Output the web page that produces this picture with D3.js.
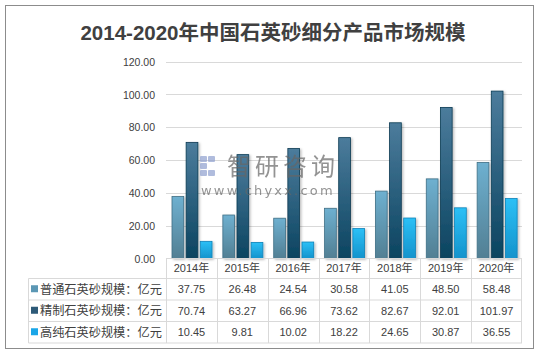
<!DOCTYPE html>
<html><head><meta charset="utf-8">
<script src="https://cdn.jsdelivr.net/npm/d3@7"></script>
<style>
html,body{margin:0;padding:0;background:#fff;}
svg{display:block;}
</style></head>
<body>
<svg id="c" width="540" height="353"></svg>
<script>
const title = "2014-2020年中国石英砂细分产品市场规模";
const categories = ["2014年","2015年","2016年","2017年","2018年","2019年","2020年"];
const seriesNames = ["普通石英砂规模：亿元","精制石英砂规模：亿元","高纯石英砂规模：亿元"];
const putong = [37.75,26.48,24.54,30.58,41.05,48.50,58.48];
const jingzhi = [70.74,63.27,66.96,73.62,82.67,92.01,101.97];
const gaochun = [10.45,9.81,10.02,18.22,24.65,30.87,36.55];
const yTicks = [0,20,40,60,80,100,120];
const seriesValues = [putong, jingzhi, gaochun];

const svg = d3.select("#c");
const latin = "'Liberation Sans','Noto Sans CJK SC',sans-serif";
const cjk = "'Noto Sans CJK SC','Liberation Sans',sans-serif";
const txt = "#404040";

// defs: gradients
const defs = svg.append("defs");
const grads = [
  ["g0", "#6eb0d0", "#527f93", "#3f6f86"],
  ["g1", "#4c7c9c", "#0b4460", "#0a3a52"],
  ["g2", "#2cc0f6", "#1493cc", "#0f82b8"]
];
grads.forEach(([id, top, bot]) => {
  const g = defs.append("linearGradient").attr("id", id).attr("x1",0).attr("y1",0).attr("x2",0).attr("y2",1);
  g.append("stop").attr("offset","0%").attr("stop-color", top);
  g.append("stop").attr("offset","100%").attr("stop-color", bot);
});
const f = defs.append("filter").attr("id","sh").attr("x","-30%").attr("y","-10%").attr("width","170%").attr("height","130%");
f.append("feDropShadow").attr("dx",1.5).attr("dy",1).attr("stdDeviation",1).attr("flood-color","#000").attr("flood-opacity",0.25);

const legendColors = ["#5b97b4", "#2d5a78", "#1aa6e8"];

// outer border
svg.append("rect").attr("x",5.5).attr("y",5.5).attr("width",528).attr("height",343)
  .attr("fill","#fff").attr("stroke","#8c8c8c").attr("stroke-width",1);

// title
svg.append("text").attr("x",273).attr("y",40).attr("text-anchor","middle")
  .attr("font-family", latin).attr("font-weight","bold").attr("font-size",20.5)
  .attr("fill","#404040").text(title);

// scales
const x0 = d3.scaleBand().domain(categories).range([166, 522]).padding(0);
const x1 = d3.scaleBand().domain([0,1,2]).range([6, 46]).paddingInner(0.17).paddingOuter(0);
const y = d3.scaleLinear().domain([0,120]).range([258.5, 61.5]);

// gridlines
svg.append("g").selectAll("line").data(yTicks.filter(d=>d>0)).join("line")
  .attr("x1",166).attr("x2",522)
  .attr("y1",d=>Math.round(y(d))+0.5).attr("y2",d=>Math.round(y(d))+0.5)
  .attr("stroke","#d9d9d9").attr("stroke-width",1);

// y axis labels
const yAxis = d3.axisLeft(y).tickValues(yTicks).tickFormat(d3.format(".2f")).tickSize(0).tickPadding(0);
const ya = svg.append("g").attr("transform","translate(155,0)").call(yAxis);
ya.select(".domain").remove();
ya.selectAll("text").attr("font-family",latin).attr("font-size",10.5).attr("fill",txt).attr("dy","0.35em");

// bars
const groups = svg.append("g").selectAll("g").data(categories).join("g")
  .attr("transform", d => `translate(${x0(d)},0)`);
groups.selectAll("rect").data((d,i)=>seriesValues.map((s,k)=>({k, v:s[i]}))).join("rect")
  .attr("x", d=>x1(d.k)).attr("width", x1.bandwidth())
  .attr("y", d=>y(d.v)).attr("height", d=>y(0)-y(d.v))
  .attr("fill", d=>`url(#g${d.k})`)
  .attr("stroke", d=>grads[d.k][3]).attr("stroke-width",0.8)
  .attr("filter","url(#sh)");

// watermark (on top of bars, semi-transparent)
const wm = svg.append("g").attr("opacity",0.7);
const lg = wm.append("g").attr("fill","#8fa0cf");
[[200,156,7,6],[208,156,7,6],[200,163,7,6],[208,163,7,6],[200,170,7,6],[208,170,7,6]].forEach((r,i)=>{
  if(i!==3) lg.append("rect").attr("x",r[0]).attr("y",r[1]).attr("width",r[2]).attr("height",r[3]).attr("rx",1);
});
wm.append("text").attr("x",227).attr("y",175).attr("font-family",cjk).attr("font-size",24)
  .attr("fill","#666").attr("letter-spacing",4).text("智研咨询");
wm.append("text").attr("x",201).attr("y",195).attr("font-family","'DejaVu Sans',sans-serif").attr("font-size",13)
  .attr("fill","#666").attr("letter-spacing",2.2).text("www.chyxx.com");

// table
const tb = svg.append("g");
const rowY = [258.5, 278.5, 300, 321.5, 343];
const gridC = "#d9d9d9";
tb.append("line").attr("x1",166).attr("x2",522).attr("y1",rowY[0]).attr("y2",rowY[0]).attr("stroke",gridC);
for (let r=1;r<rowY.length;r++){
  tb.append("line").attr("x1",28.5).attr("x2",522).attr("y1",rowY[r]).attr("y2",rowY[r]).attr("stroke",gridC);
}
tb.append("line").attr("x1",28.5).attr("x2",28.5).attr("y1",rowY[1]).attr("y2",rowY[4]).attr("stroke",gridC);
categories.forEach(c=>{
  const xx = Math.round(x0(c))+0.5;
  tb.append("line").attr("x1",xx).attr("x2",xx).attr("y1",rowY[0]).attr("y2",rowY[4]).attr("stroke",gridC);
});
tb.append("line").attr("x1",521.5).attr("x2",521.5).attr("y1",rowY[0]).attr("y2",rowY[4]).attr("stroke",gridC);

// header
tb.selectAll("text.hd").data(categories).join("text").attr("class","hd")
  .attr("x", d=>x0(d)+x0.bandwidth()/2).attr("y", (rowY[0]+rowY[1])/2)
  .attr("dy","0.36em").attr("text-anchor","middle")
  .attr("font-family",latin).attr("font-size",11).attr("fill",txt).text(d=>d);

// rows
seriesNames.forEach((name,k)=>{
  const cy = (rowY[k+1]+rowY[k+2])/2;
  tb.append("rect").attr("x",31).attr("y",cy-4).attr("width",7).attr("height",7).attr("fill",legendColors[k]);
  tb.append("text").attr("x",40).attr("y",cy).attr("dy","0.36em")
    .attr("font-family",cjk).attr("font-size",12.2).attr("fill",txt).text(name);
  tb.selectAll(null).data(seriesValues[k]).join("text")
    .attr("x",(d,i)=>x0(categories[i])+x0.bandwidth()/2).attr("y",cy).attr("dy","0.36em")
    .attr("text-anchor","middle").attr("font-family",latin).attr("font-size",11).attr("fill",txt)
    .text(d=>d.toFixed(2));
});
</script>
</body></html>
